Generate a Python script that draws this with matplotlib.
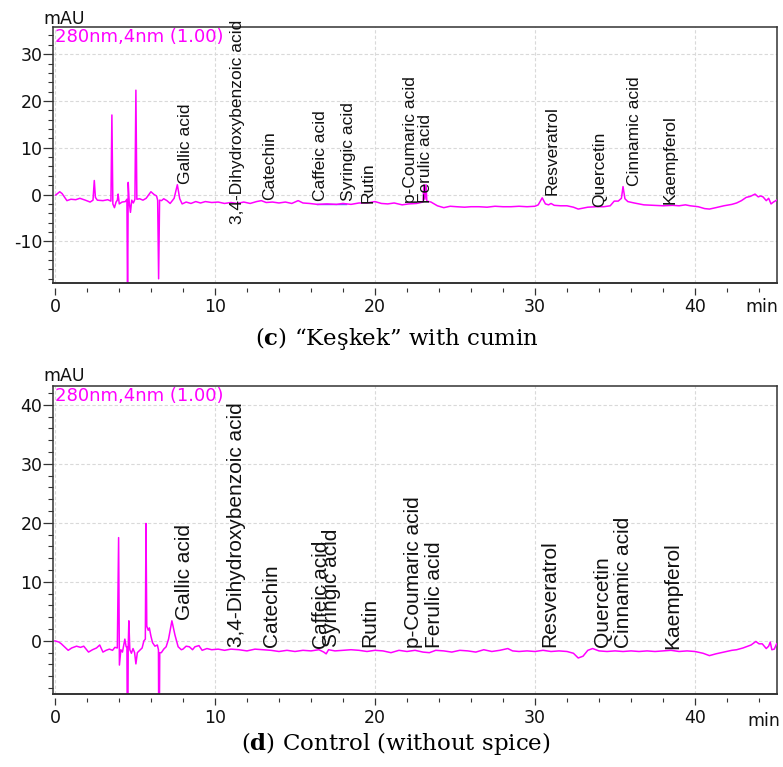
import matplotlib
matplotlib.use("Agg")
import matplotlib.pyplot as plt
from matplotlib.ticker import MultipleLocator

plt.rcParams['axes.unicode_minus'] = False
plt.rcParams['mathtext.fontset'] = 'custom'
plt.rcParams['mathtext.rm'] = 'DejaVu Serif'
plt.rcParams['mathtext.bf'] = 'DejaVu Serif:bold'

# ---- compound names (same for both runs)
compounds = ["Gallic acid", "3,4-Dihydroxybenzoic acid", "Catechin", "Caffeic acid",
             "Syringic acid", "Rutin", "p-Coumaric acid", "Ferulic acid",
             "Resveratrol", "Quercetin", "Cinnamic acid", "Kaempferol"]

# ---- (c) Keskek with cumin: label anchor (retention time, mAU)
c_lab_t = [7.7, 10.95, 12.95, 16.1, 17.9, 19.1, 21.75, 22.7, 30.6, 33.55, 35.75, 38.0]
c_lab_v = [2.35, -6.2, -1.1, -1.3, -1.3, -1.7, -1.7, -1.7, -0.2, -2.6, 1.9, -2.1]

# trace (min, mAU)
c_t = [0.05, 0.3, 0.45, 0.75, 1.0, 1.3, 1.56, 1.9, 2.2, 2.38, 2.46, 2.53, 2.65, 3.0, 3.3,
       3.5, 3.56, 3.62, 3.72, 3.82, 3.9, 3.95, 4.02, 4.2, 4.4, 4.5, 4.54, 4.58, 4.64, 4.72,
       4.8, 4.9, 5.0, 5.06, 5.12, 5.3, 5.5, 5.7, 6.0, 6.2, 6.35, 6.42, 6.48, 6.54, 6.66,
       6.8, 7.0, 7.2, 7.45, 7.65, 7.8, 7.95, 8.2, 8.5, 8.8, 9.1, 9.4, 9.8, 10.2, 10.6,
       11.0, 11.4, 11.8, 12.2, 12.6, 12.9, 13.2, 13.6, 14.0, 14.4, 14.8, 15.2, 15.5, 15.9,
       16.4, 17.0, 17.6, 18.0, 18.5, 19.0, 19.5, 20.0, 20.4, 20.8, 21.2, 21.7, 22.1, 22.6,
       23.0, 23.06, 23.12, 23.19, 23.24, 23.5, 23.9, 24.3, 24.7, 25.1, 25.6, 26.0, 26.5,
       27.0, 27.5, 28.0, 28.5, 29.0, 29.5, 30.0, 30.2, 30.45, 30.65, 30.85, 31.0, 31.2,
       31.6, 32.0, 32.4, 32.7, 33.0, 33.3, 33.8, 34.3, 34.7, 34.95, 35.2, 35.4, 35.5,
       35.62, 35.8, 36.2, 36.8, 37.4, 38.0, 38.6, 39.0, 39.4, 39.7, 40.2, 40.6, 40.9,
       41.3, 41.8, 42.3, 42.6, 42.9, 43.2, 43.45, 43.75, 43.95, 44.1, 44.25, 44.45, 44.6,
       44.75, 44.9, 45.1]
c_v = [-0.1, 0.6, 0.2, -1.3, -1.0, -1.1, -0.8, -1.2, -1.6, -1.2, 3.0, -0.6, -1.2, -1.3, -1.1,
       -1.4, 17.0, -2.0, -2.8, -1.6, -1.2, 0.1, -2.0, -1.6, -1.5, -1.0, -25.0, 2.6, -1.5, -3.8,
       -1.2, -1.8, -1.0, 22.3, -1.0, -0.9, -1.2, -0.8, 0.6, 0.0, -0.3, -1.2, -18.0, -1.2, -1.3,
       -0.9, -1.3, -1.9, -0.8, 2.1, -0.9, -2.0, -1.6, -1.9, -1.5, -1.8, -1.5, -1.7, -1.6, -1.9,
       -1.7, -1.9, -1.6, -1.9, -1.5, -1.3, -1.7, -1.6, -1.8, -1.6, -1.9, -1.3, -1.8, -1.9,
       -2.1, -2.0, -2.1, -1.9, -2.1, -1.8, -1.8, -1.5, -1.9, -2.0, -1.8, -2.2, -2.0, -1.9,
       -1.6, 2.1, -1.0, 2.1, -1.4, -1.6, -2.4, -2.8, -2.5, -2.6, -2.7, -2.6, -2.6,
       -2.7, -2.5, -2.6, -2.6, -2.5, -2.6, -2.5, -2.2, -0.7, -2.0, -2.2, -1.9, -2.3,
       -2.4, -2.4, -2.7, -3.1, -2.9, -2.7, -2.6, -2.6, -2.4, -1.4, -1.4, -0.8, 1.7,
       -0.9, -1.5, -1.8, -2.2, -2.3, -2.4, -2.3, -2.4, -2.2, -2.4, -2.6, -3.0, -3.1,
       -2.8, -2.4, -2.1, -1.8, -1.3, -0.6, -0.4, 0.1, -0.5, -0.3, -0.5, -1.3, -0.8,
       -2.0, -1.6, -1.2]
c_int_t = [16.4, 18.2]
c_int_v = [-2.0, -2.0]

# ---- (d) Control: label anchors
d_lab_t = [7.5, 10.75, 12.95, 16.05, 16.7, 19.05, 21.8, 23.1, 30.3, 33.6, 34.95, 38.0]
d_lab_v = [3.6, -1.0, -1.0, -1.4, -1.0, -1.0, -1.2, -1.2, -1.0, -1.0, -1.2, -1.4]

d_t = [0.0, 0.25, 0.4, 0.6, 0.83, 1.05, 1.35, 1.6, 1.8, 2.1, 2.35, 2.6, 2.8, 3.0, 3.2,
       3.4, 3.6, 3.75, 3.9, 3.98, 4.03, 4.12, 4.22, 4.37, 4.45, 4.5, 4.54, 4.58, 4.62, 4.68,
       4.78, 4.88, 4.98, 5.06, 5.15, 5.3, 5.45, 5.56, 5.65, 5.69, 5.74, 5.83, 5.9, 6.0,
       6.1, 6.25, 6.4, 6.47, 6.5, 6.55, 6.65, 6.8, 6.95, 7.1, 7.31, 7.5, 7.7, 7.9, 8.0,
       8.2, 8.4, 8.6, 8.75, 9.0, 9.2, 9.5, 9.8, 10.2, 10.6, 11.0, 11.5, 12.0, 12.5, 13.0,
       13.5, 14.0, 14.5, 15.0, 15.5, 16.0, 16.5, 16.8, 16.95, 17.1, 17.5, 18.0, 18.5, 19.0,
       19.5, 20.0, 20.5, 21.0, 21.5, 22.0, 22.5, 23.0, 23.4, 23.8, 24.3, 24.8, 25.3, 25.8,
       26.3, 26.8, 27.3, 27.8, 28.3, 28.6, 29.0, 29.5, 30.0, 30.5, 31.0, 31.5, 32.0, 32.4,
       32.7, 33.0, 33.3, 33.6, 34.0, 34.5, 35.0, 35.5, 36.0, 36.5, 37.0, 37.5, 38.0, 38.5,
       39.0, 39.5, 40.0, 40.5, 40.9, 41.3, 41.8, 42.3, 42.6, 43.0, 43.5, 43.8, 44.0, 44.2,
       44.45, 44.6, 44.7, 44.8, 44.95, 45.1]
d_v = [0.0, -0.2, -0.5, -1.0, -1.6, -1.2, -0.9, -1.1, -0.9, -1.9, -1.5, -1.2, -0.7, -1.9, -1.6,
       -1.4, -1.6, -1.1, -1.2, 17.5, -4.1, -1.5, -1.9, 0.3, -1.0, -1.0, -25.0, -1.0, 3.4, -1.5,
       -2.1, -1.3, -2.0, -3.9, -2.0, -1.6, -1.2, 0.0, 0.3, 19.9, 2.5, 1.8, 2.2, 0.8,
       -0.3, -0.9, -0.7, -1.5, -25.0, -2.0, -2.0, -1.4, -1.0, 0.3, 3.4, 1.0, -1.0, -1.5, -1.4,
       -0.9, -1.0, -1.5, -1.0, -0.8, -1.6, -1.3, -1.5, -1.4, -1.6, -1.4, -1.5, -1.7, -1.4, -1.5,
       -1.6, -1.8, -1.6, -1.8, -1.6, -1.7, -1.5, -1.9, -2.2, -1.5, -1.7, -1.6, -1.5, -1.6,
       -1.8, -1.6, -1.7, -2.0, -1.6, -1.8, -1.6, -1.9, -2.0, -1.6, -1.7, -1.9, -1.6, -1.7,
       -1.9, -1.5, -1.8, -1.6, -1.3, -1.7, -1.8, -1.7, -1.8, -1.6, -1.8, -1.7, -1.8, -2.1,
       -2.9, -2.6, -1.6, -1.3, -1.7, -1.8, -1.7, -1.8, -1.7, -1.8, -1.7, -1.8, -1.7, -1.6,
       -1.8, -1.7, -1.8, -2.1, -2.5, -2.2, -1.9, -1.6, -1.5, -1.2, -0.7, -0.1, -0.5, -0.5,
       -1.3, -0.9, -0.2, -1.5, -1.4, -0.5]

MAG = '#ff00ff'
EDGE = '#333333'

fig = plt.figure(figsize=(7.83, 7.67), dpi=100)


def panel(rect, ylim, t, v, lab_t, lab_v, lab_size):
    ax = fig.add_axes(rect)
    ax.plot(t, v, color=MAG, lw=1.1, zorder=3)
    ax.xaxis.set_major_locator(MultipleLocator(10))
    ax.xaxis.set_minor_locator(MultipleLocator(2))
    ax.yaxis.set_major_locator(MultipleLocator(10))
    ax.yaxis.set_minor_locator(MultipleLocator(2))
    ax.set_xlim(-0.09, 45.12)
    ax.set_ylim(*ylim)
    ax.grid(True, which='major', color='#d9d9d9', lw=0.8, ls=(0, (3, 2)), zorder=0)
    for s in ax.spines.values():
        s.set_color(EDGE)
        s.set_linewidth(1.1)
    # ticks hang a little below the frame, as in the instrument printout
    ax.spines['bottom'].set_position(('outward', 3))
    ax.spines['bottom'].set_color('none')
    ax.plot([0, 1], [0, 0], transform=ax.transAxes, color=EDGE, lw=1.4, clip_on=False, zorder=4)
    ax.tick_params(axis='x', which='major', length=5, width=0.9, color=EDGE, pad=2.5,
                   labelsize=12.5, labelcolor='#111111')
    ax.tick_params(axis='x', which='minor', length=3, width=0.8, color=EDGE)
    ax.tick_params(axis='y', which='major', length=7, width=0.9, color=EDGE, pad=1,
                   labelsize=12.5, labelcolor='#111111')
    ax.tick_params(axis='y', which='minor', length=3.5, width=0.8, color=EDGE)
    for name, x, y in zip(compounds, lab_t, lab_v):
        ax.text(x, y, name, rotation=90, ha='left', va='bottom', fontsize=lab_size,
                family='Liberation Sans', color='#111111', clip_on=False, zorder=5)
    return ax


ax1 = panel([0.0683, 0.6304, 0.924, 0.3344], (-19.0, 35.8), c_t, c_v,
            c_lab_t, c_lab_v, 12.5)
ax1.plot(c_int_t, c_int_v, color='#6060ff', lw=1.0, zorder=2)
ax2 = panel([0.0683, 0.0952, 0.924, 0.4016], (-9.0, 43.2), d_t, d_v,
            d_lab_t, d_lab_v, 15)

for yy in (0.975, 0.510):
    fig.text(0.055, yy, "mAU", fontsize=12.5, va='center', ha='left', color='#111111')
for yy in (0.952, 0.4837):
    fig.text(0.0702, yy, "280nm,4nm (1.00)", fontsize=13, va='center', ha='left', color=MAG)
fig.text(0.973, 0.600, "min", fontsize=12.5, va='center', ha='center', color='#111111')
fig.text(0.976, 0.060, "min", fontsize=12.5, va='center', ha='center', color='#111111')

fig.text(0.507, 0.559, "(" + r"$\mathbf{c}$" + ") \u201cKe\u015fkek\u201d with cumin",
         fontsize=16.5, family='DejaVu Serif', ha='center', va='center')
fig.text(0.506, 0.031, "(" + r"$\mathbf{d}$" + ") Control (without spice)",
         fontsize=16.5, family='DejaVu Serif', ha='center', va='center')

fig.savefig("out.png", dpi=100)
